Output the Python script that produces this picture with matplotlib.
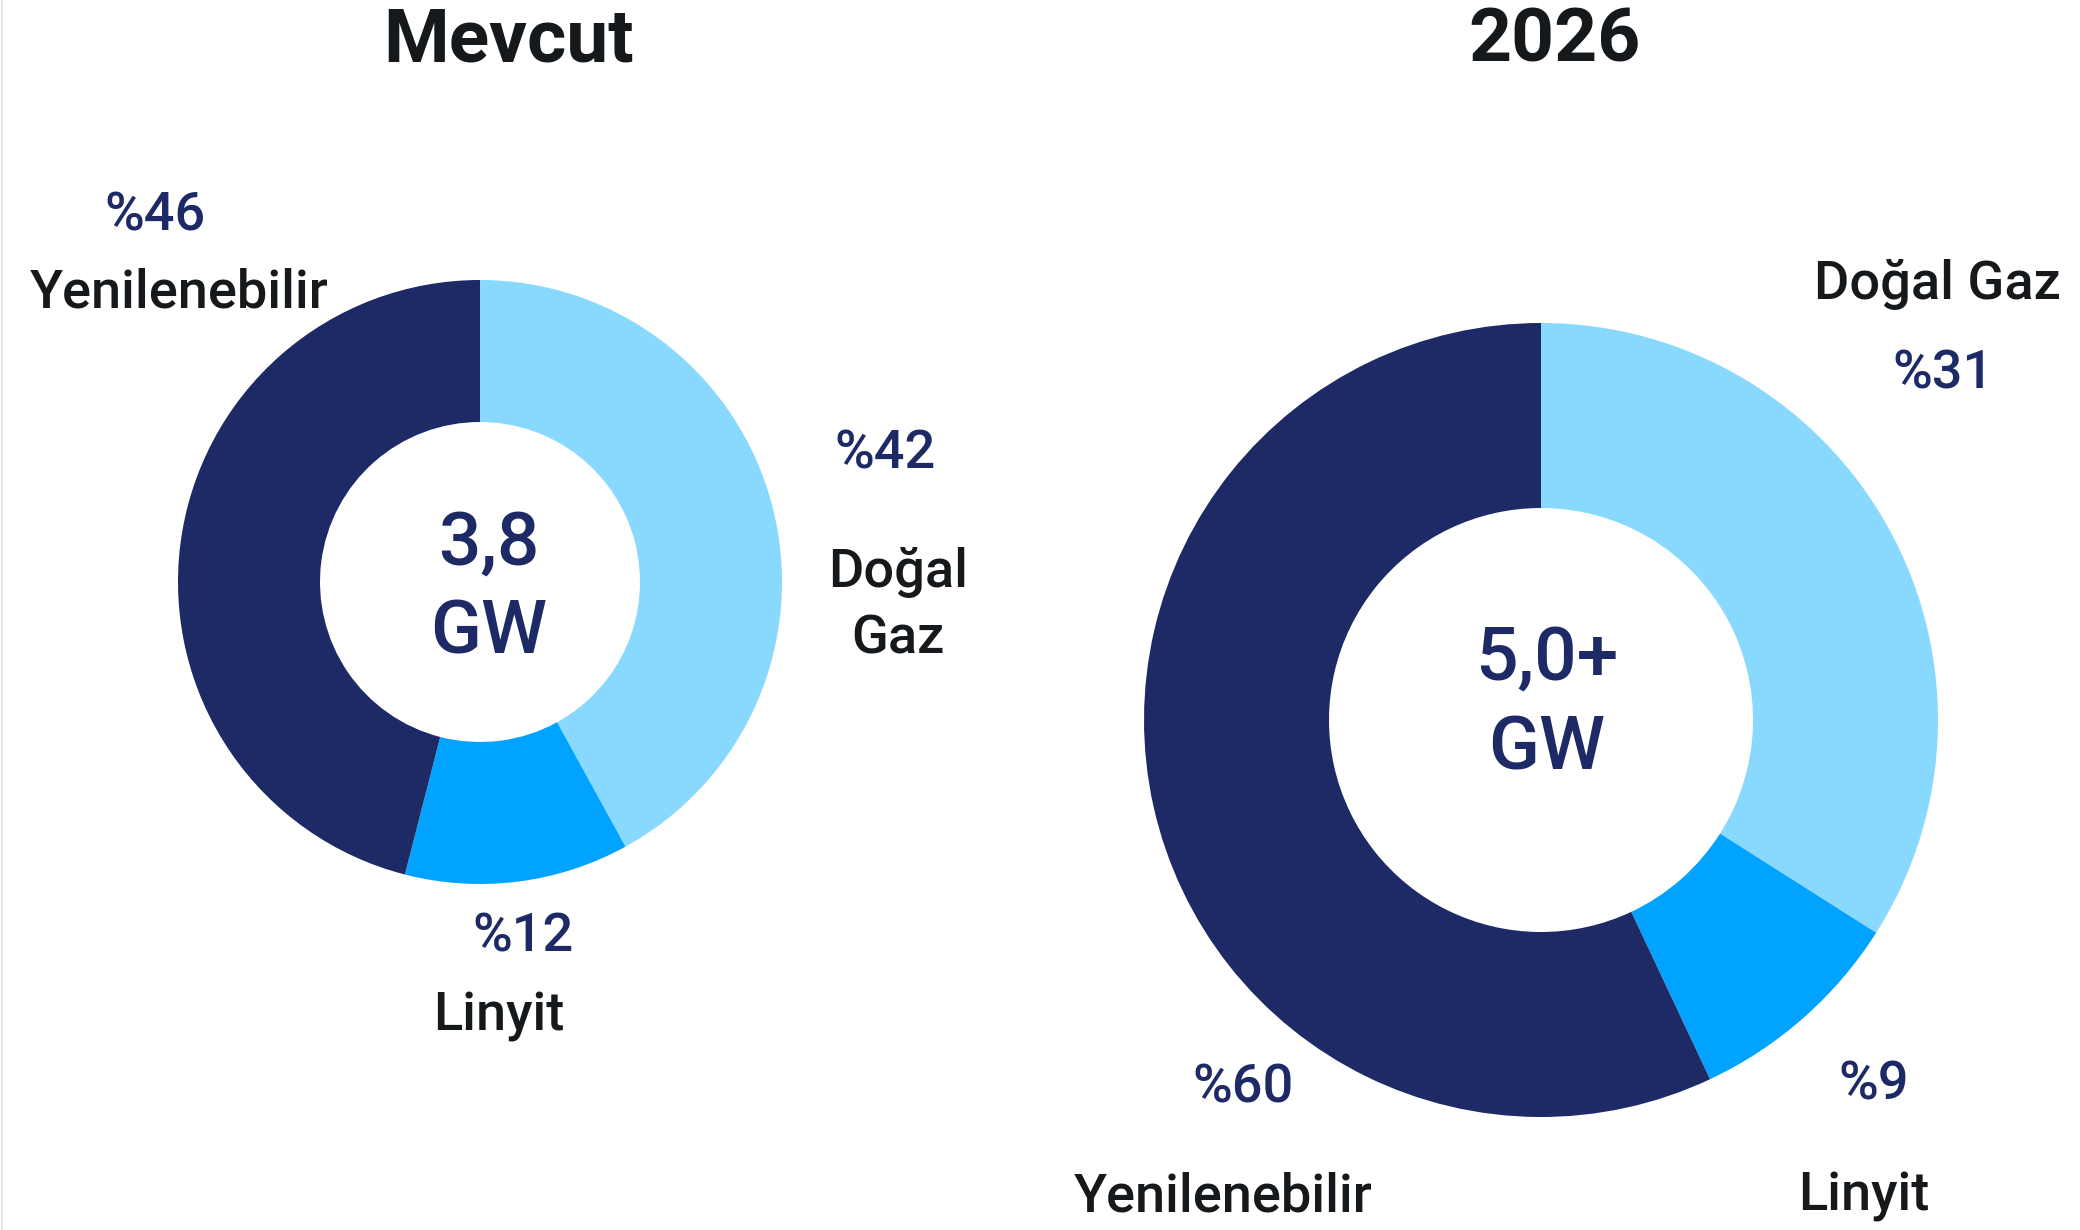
import matplotlib

matplotlib.use("Agg")
import matplotlib.pyplot as plt
from matplotlib.lines import Line2D

W, H = 2080, 1230

# data
categories = ["Doğal Gaz", "Linyit", "Yenilenebilir"]
current_shares = [42, 12, 46]
current_labels = ["%42", "%12", "%46"]
future_shares = [34, 9, 57]          # wedge sizes as drawn
future_labels = ["%31", "%9", "%60"]  # printed percentages
titles = ["Mevcut", "2026"]
totals = ["3,8", "5,0+"]
unit = "GW"

COLORS = ["#89d9fe", "#00a3ff", "#1e2a66"]
NAVY = "#1e2a66"
INK = "#15191c"

plt.rcParams["font.family"] = ["Roboto", "DejaVu Sans"]

fig = plt.figure(figsize=(W / 100, H / 100), dpi=100)
ax = fig.add_axes([0, 0, 1, 1])


def y(py):
    # image pixel row -> data y
    return H - py


def donut(cx, cy, r_out, r_in, shares):
    ax.pie(shares, colors=COLORS, startangle=90, counterclock=False,
           center=(cx, y(cy)), radius=r_out,
           wedgeprops=dict(width=r_out - r_in, linewidth=0))


donut(480, 582, 302, 160, current_shares)
donut(1541, 720, 397, 212, future_shares)

ax.set_xlim(0, W)
ax.set_ylim(0, H)
ax.set_aspect("equal")
ax.axis("off")

# titles
ax.text(509, y(42), titles[0], ha="center", va="center", fontsize=54,
        fontweight="bold", color=INK)
ax.text(1555, y(42), titles[1], ha="center", va="center", fontsize=54,
        fontweight="bold", color=INK)

# centre totals
big = dict(ha="center", va="center", fontsize=54, fontweight="medium", color=NAVY)
ax.text(489, y(544), totals[0], **big)
ax.text(489, y(633), unit, **big)
ax.text(1547, y(659), totals[1], **big)
ax.text(1547, y(749), unit, **big)

pct = dict(ha="center", va="center", fontsize=39, fontweight="medium", color=NAVY)
lab = dict(ha="center", va="center", fontsize=39, fontweight="medium", color=INK)

# left donut labels
ax.text(885, y(454), current_labels[0], **pct)
ax.text(898, y(572), "Doğal", **lab)
ax.text(898, y(639), "Gaz", **lab)
ax.text(523, y(937), current_labels[1], **pct)
ax.text(499, y(1016), categories[1], **lab)
ax.text(155, y(216), current_labels[2], **pct)
ax.text(179, y(293), categories[2], **lab)

# right donut labels
ax.text(1937, y(284), categories[0], **lab)
ax.text(1943, y(374), future_labels[0], **pct)
ax.text(1874, y(1085), future_labels[1], **pct)
ax.text(1864, y(1197), categories[1], **lab)
ax.text(1243, y(1088), future_labels[2], **pct)
ax.text(1223, y(1197), categories[2], **lab)

fig.add_artist(Line2D([0.0012, 0.0012], [0, 1], color="#e6e6e6", lw=1.5))

fig.savefig("out.png", dpi=100, facecolor="white")
